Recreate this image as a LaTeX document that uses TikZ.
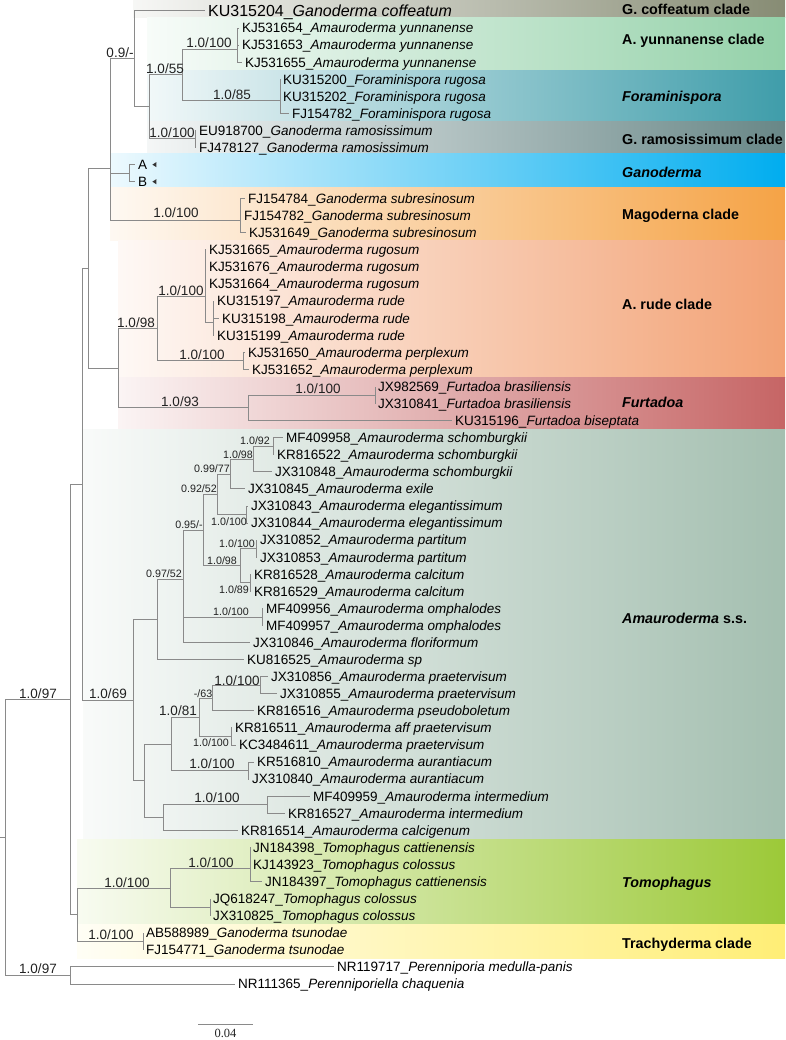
\documentclass[tikz,border=0pt]{standalone}
\usepackage{fontspec}
\setmainfont{Liberation Sans}
\newfontfamily\serifface{Liberation Serif}
\usetikzlibrary{calc}
\definecolor{branch}{HTML}{8A8A8A}
\definecolor{cCoff}{HTML}{878C74}
\definecolor{cYun}{HTML}{94D1A9}
\definecolor{cFora}{HTML}{3F9DAA}
\definecolor{cRamo}{HTML}{688787}
\definecolor{cGano}{HTML}{00ADEF}
\definecolor{cMago}{HTML}{F5A346}
\definecolor{cRude}{HTML}{F2A275}
\definecolor{cFurt}{HTML}{C66565}
\definecolor{cAmau}{HTML}{A4BFB0}
\definecolor{cTomo}{HTML}{9CC938}
\definecolor{cTrac}{HTML}{FFEE76}
\definecolor{lbl}{HTML}{222222}
\newcommand\band[4]{\shade[left color=#4!7!white, middle color=#4!55!white, right color=#4] (#1,#2) rectangle (785,#3);}
\newcommand\tb[2]{\draw[br] (#1) |- ([xshift=-3pt]#2.west);}
\newcommand\ed[2]{\draw[br] (#1) |- (#2);}
\begin{document}
\begin{tikzpicture}[x=1pt,y=-1pt,
  br/.style={draw=branch, line width=1pt},
  tip/.style={anchor=west, inner sep=0pt, text height=9.6pt, text depth=0pt, font=\fontsize{13.5}{15}\selectfont, text=black},
  sup/.style={inner sep=0pt, font=\fontsize{13.5}{15}\selectfont, text=lbl},
  supsm/.style={inner sep=0pt, font=\fontsize{10.7}{12}\selectfont, text=lbl},
  clade/.style={anchor=west, inner sep=0pt, font=\fontsize{14.3}{16}\selectfont\bfseries, text=black}]
\useasboundingbox (0,0) rectangle (786,1040);
% ---------- clade bands
\band{133}{0}{18}{cCoff}
\band{147}{18}{70.5}{cYun}
\band{147}{70.5}{122}{cFora}
\band{147}{122}{154}{cRamo}
\band{110}{154}{188}{cGano}
\band{110}{188}{240.5}{cMago}
\band{118}{240.5}{377.5}{cRude}
\band{118}{377.5}{429.5}{cFurt}
\band{83}{429.5}{839}{cAmau}
\band{77}{839}{924.5}{cTomo}
\band{77}{924.5}{958.5}{cTrac}
% ---------- clade labels
\node[clade] (k1) at (622,9) {G. coffeatum clade};
\node[clade] (k2) at (622,41) {A. yunnanense clade};
\node[clade] (k3) at (622,98) {\textit{Foraminispora}};
\node[clade] (k4) at (622,139) {G. ramosissimum clade};
\node[clade] (k5) at (622,172) {\textit{Ganoderma}};
\node[clade] (k6) at (622,216) {Magoderna clade};
\node[clade] (k7) at (622,304) {A. rude clade};
\node[clade] (k8) at (622,402) {\textit{Furtadoa}};
\node[clade] (k9) at (622,618) {\textit{Amauroderma} s.s.};
\node[clade] (k10) at (622,884) {\textit{Tomophagus}};
\node[clade] (k11) at (622,945) {Trachyderma clade};
% ---------- internal nodes
\coordinate (r0) at (0,837.5);
\coordinate (root) at (5,837.5);
\coordinate (n70) at (70,699.5);
\coordinate (out) at (70,975.5);
\coordinate (n82) at (82,484.3);
\coordinate (n77) at (77,914.7);
\coordinate (g88) at (88,268.3);
\coordinate (n133) at (133,700.3);
\coordinate (g110) at (110,168.1);
\coordinate (rf) at (118,368.4);
\coordinate (c09) at (134,59.0);
\coordinate (c155) at (149,107.0);
\coordinate (yf) at (182,75.0);
\coordinate (yun) at (237,49.4);
\coordinate (fora) at (280,100.6);
\coordinate (ram) at (195,139.0);
\coordinate (ab) at (129,173.2);
\coordinate (mago) at (240,220.1);
\coordinate (rudecl) at (157,328.9);
\coordinate (rug) at (205,296.9);
\coordinate (rude) at (213,322.5);
\coordinate (perp) at (243,360.9);
\coordinate (furt) at (248,407.9);
\coordinate (bras) at (375,395.1);
\coordinate (a157) at (157,619.8);
\coordinate (a97) at (183,579.9);
\coordinate (a95) at (203,530.0);
\coordinate (a52) at (217,494.3);
\coordinate (a77) at (230,474.0);
\coordinate (a98) at (253,459.1);
\coordinate (a92) at (273,446.3);
\coordinate (ael) at (246,514.6);
\coordinate (pc) at (240,565.8);
\coordinate (part) at (256,548.7);
\coordinate (calcn) at (250,582.8);
\coordinate (omph) at (262,617.0);
\coordinate (n144) at (144,780.8);
\coordinate (n171) at (171,744.0);
\coordinate (n199) at (199,717.3);
\coordinate (p63) at (212,698.1);
\coordinate (p856) at (260,685.3);
\coordinate (kk) at (231,736.5);
\coordinate (aur) at (248,770.6);
\coordinate (n163) at (163,817.6);
\coordinate (inter) at (267,804.8);
\coordinate (tomo) at (170,888.0);
\coordinate (tin) at (250,868.8);
\coordinate (tcol) at (210,907.2);
\coordinate (trach) at (143,941.3);
% ---------- tips
\node[tip, text height=11.5pt, font=\fontsize{16}{18}\selectfont] (t1) at (208,11.00) {KU315204\_\textit{Ganoderma coffeatum}};
\node[tip] (t2) at (242,28.07) {KJ531654\_\textit{Amauroderma yunnanense}};
\node[tip] (t3) at (242,45.14) {KJ531653\_\textit{Amauroderma yunnanense}};
\node[tip] (t4) at (245,62.21) {KJ531655\_\textit{Amauroderma yunnanense}};
\node[tip] (t5) at (283,79.28) {KU315200\_\textit{Foraminispora rugosa}};
\node[tip] (t6) at (283,96.35) {KU315202\_\textit{Foraminispora rugosa}};
\node[tip] (t7) at (292,113.42) {FJ154782\_\textit{Foraminispora rugosa}};
\node[tip] (t8) at (199,130.49) {EU918700\_\textit{Ganoderma ramosissimum}};
\node[tip] (t9) at (199,147.56) {FJ478127\_\textit{Ganoderma ramosissimum}};
\node[tip] (t10) at (138,164.63) {A};
\node[tip] (t11) at (138,181.70) {B};
\node[tip] (t12) at (248,198.77) {FJ154784\_\textit{Ganoderma subresinosum}};
\node[tip] (t13) at (244,215.84) {FJ154782\_\textit{Ganoderma subresinosum}};
\node[tip] (t14) at (249,232.91) {KJ531649\_\textit{Ganoderma subresinosum}};
\node[tip] (t15) at (209,249.98) {KJ531665\_\textit{Amauroderma rugosum}};
\node[tip] (t16) at (209,267.05) {KJ531676\_\textit{Amauroderma rugosum}};
\node[tip] (t17) at (209,284.12) {KJ531664\_\textit{Amauroderma rugosum}};
\node[tip] (t18) at (217,301.19) {KU315197\_\textit{Amauroderma rude}};
\node[tip] (t19) at (222,318.26) {KU315198\_\textit{Amauroderma rude}};
\node[tip] (t20) at (217,335.33) {KU315199\_\textit{Amauroderma rude}};
\node[tip] (t21) at (248,352.40) {KJ531650\_\textit{Amauroderma perplexum}};
\node[tip] (t22) at (252,369.47) {KJ531652\_\textit{Amauroderma perplexum}};
\node[tip] (t23) at (378,386.54) {JX982569\_\textit{Furtadoa brasiliensis}};
\node[tip] (t24) at (378,403.61) {JX310841\_\textit{Furtadoa brasiliensis}};
\node[tip] (t25) at (455,420.68) {KU315196\_\textit{Furtadoa biseptata}};
\node[tip] (t26) at (286,437.75) {MF409958\_\textit{Amauroderma schomburgkii}};
\node[tip] (t27) at (277,454.82) {KR816522\_\textit{Amauroderma schomburgkii}};
\node[tip] (t28) at (275,471.89) {JX310848\_\textit{Amauroderma schomburgkii}};
\node[tip] (t29) at (248,488.96) {JX310845\_\textit{Amauroderma exile}};
\node[tip] (t30) at (251,506.03) {JX310843\_\textit{Amauroderma elegantissimum}};
\node[tip] (t31) at (251,523.10) {JX310844\_\textit{Amauroderma elegantissimum}};
\node[tip] (t32) at (260,540.17) {JX310852\_\textit{Amauroderma partitum}};
\node[tip] (t33) at (260,557.24) {JX310853\_\textit{Amauroderma partitum}};
\node[tip] (t34) at (254,574.31) {KR816528\_\textit{Amauroderma calcitum}};
\node[tip] (t35) at (254,591.38) {KR816529\_\textit{Amauroderma calcitum}};
\node[tip] (t36) at (266,608.45) {MF409956\_\textit{Amauroderma omphalodes}};
\node[tip] (t37) at (266,625.52) {MF409957\_\textit{Amauroderma omphalodes}};
\node[tip] (t38) at (253,642.59) {JX310846\_\textit{Amauroderma floriformum}};
\node[tip] (t39) at (247,659.66) {KU816525\_\textit{Amauroderma sp}};
\node[tip] (t40) at (271,676.73) {JX310856\_\textit{Amauroderma praetervisum}};
\node[tip] (t41) at (280,693.80) {JX310855\_\textit{Amauroderma praetervisum}};
\node[tip] (t42) at (257,710.87) {KR816516\_\textit{Amauroderma pseudoboletum}};
\node[tip] (t43) at (235,727.94) {KR816511\_\textit{Amauroderma aff praetervisum}};
\node[tip] (t44) at (239,745.01) {KC3484611\_\textit{Amauroderma praetervisum}};
\node[tip] (t45) at (257,762.08) {KR516810\_\textit{Amauroderma aurantiacum}};
\node[tip] (t46) at (252,779.15) {JX310840\_\textit{Amauroderma aurantiacum}};
\node[tip] (t47) at (313,796.22) {MF409959\_\textit{Amauroderma intermedium}};
\node[tip] (t48) at (288,813.29) {KR816527\_\textit{Amauroderma intermedium}};
\node[tip] (t49) at (241,830.36) {KR816514\_\textit{Amauroderma calcigenum}};
\node[tip] (t50) at (253,847.43) {JN184398\_\textit{Tomophagus cattienensis}};
\node[tip] (t51) at (253,864.50) {KJ143923\_\textit{Tomophagus colossus}};
\node[tip] (t52) at (265,881.57) {JN184397\_\textit{Tomophagus cattienensis}};
\node[tip] (t53) at (213,898.64) {JQ618247\_\textit{Tomophagus colossus}};
\node[tip] (t54) at (213,915.71) {JX310825\_\textit{Tomophagus colossus}};
\node[tip] (t55) at (146,932.78) {AB588989\_\textit{Ganoderma tsunodae}};
\node[tip] (t56) at (146,949.85) {FJ154771\_\textit{Ganoderma tsunodae}};
\node[tip] (t57) at (337,966.92) {NR119717\_\textit{Perenniporia medulla-panis}};
\node[tip] (t58) at (238,983.99) {NR111365\_\textit{Perenniporiella chaquenia}};
% small markers after A and B
\fill[black!80] ($(t10.east)+(9,-2.6)$) -- ($(t10.east)+(5,0)$) -- ($(t10.east)+(9,2.6)$) -- cycle;
\fill[black!80] ($(t11.east)+(9,-2.6)$) -- ($(t11.east)+(5,0)$) -- ($(t11.east)+(9,2.6)$) -- cycle;
% ---------- branches
\draw[br] (r0) -- (root);
\ed{root}{n70} \ed{root}{out}
\ed{n70}{n82} \ed{n70}{n77}
\ed{n82}{g88} \ed{n82}{n133}
\ed{g88}{g110} \ed{g88}{rf}
\ed{g110}{c09} \ed{g110}{ab} \ed{g110}{mago}
\tb{c09}{t1} \ed{c09}{c155}
\ed{c155}{yf} \ed{c155}{ram}
\ed{yf}{yun} \ed{yf}{fora}
\tb{yun}{t2} \tb{yun}{t3} \tb{yun}{t4}
\tb{fora}{t5} \tb{fora}{t6} \tb{fora}{t7}
\tb{ram}{t8} \tb{ram}{t9}
\tb{ab}{t10} \tb{ab}{t11}
\tb{mago}{t12} \tb{mago}{t13} \tb{mago}{t14}
\ed{rf}{rudecl} \ed{rf}{furt}
\ed{rudecl}{rug} \ed{rudecl}{perp}
\tb{rug}{t15} \tb{rug}{t16} \tb{rug}{t17} \ed{rug}{rude}
\tb{rude}{t18} \tb{rude}{t19} \tb{rude}{t20}
\tb{perp}{t21} \tb{perp}{t22}
\ed{furt}{bras} \tb{furt}{t25}
\tb{bras}{t23} \tb{bras}{t24}
\ed{n133}{a157} \ed{n133}{n144}
\ed{a157}{a97} \tb{a157}{t39}
\ed{a97}{a95} \ed{a97}{omph} \tb{a97}{t38}
\ed{a95}{a52} \ed{a95}{pc}
\ed{a52}{a77} \ed{a52}{ael}
\ed{a77}{a98} \tb{a77}{t29}
\ed{a98}{a92} \tb{a98}{t28}
\tb{a92}{t26} \tb{a92}{t27}
\tb{ael}{t30} \tb{ael}{t31}
\ed{pc}{part} \ed{pc}{calcn}
\tb{part}{t32} \tb{part}{t33}
\tb{calcn}{t34} \tb{calcn}{t35}
\tb{omph}{t36} \tb{omph}{t37}
\ed{n144}{n171} \ed{n144}{n163}
\ed{n171}{n199} \ed{n171}{aur}
\ed{n199}{p63} \ed{n199}{kk}
\ed{p63}{p856} \tb{p63}{t42}
\tb{p856}{t40} \tb{p856}{t41}
\tb{kk}{t43} \tb{kk}{t44}
\tb{aur}{t45} \tb{aur}{t46}
\ed{n163}{inter} \tb{n163}{t49}
\tb{inter}{t47} \tb{inter}{t48}
\ed{n77}{tomo} \ed{n77}{trach}
\ed{tomo}{tin} \ed{tomo}{tcol}
\tb{tin}{t50} \tb{tin}{t51} \tb{tin}{t52}
\tb{tcol}{t53} \tb{tcol}{t54}
\tb{trach}{t55} \tb{trach}{t56}
\tb{out}{t57} \tb{out}{t58}
% ---------- support values
\node[sup] (s1) at (120,53) {0.9/-};
\node[sup] (s2) at (165,69) {1.0/55};
\node[sup] (s3) at (209,43) {1.0/100};
\node[sup] (s4) at (232,95) {1.0/85};
\node[sup] (s5) at (172,133) {1.0/100};
\node[sup] (s6) at (176,213) {1.0/100};
\node[sup] (s7) at (181,291) {1.0/100};
\node[sup] (s8) at (136,323) {1.0/98};
\node[sup] (s9) at (202,355) {1.0/100};
\node[sup] (s10) at (318,389) {1.0/100};
\node[sup] (s11) at (180,402) {1.0/93};
\node[sup] (s12) at (108,694) {1.0/69};
\node[sup] (s13) at (38,694) {1.0/97};
\node[sup] (s14) at (178,711) {1.0/81};
\node[sup] (s15) at (237,681) {1.0/100};
\node[sup] (s16) at (212,764) {1.0/100};
\node[sup] (s17) at (217,798) {1.0/100};
\node[sup] (s18) at (211,863) {1.0/100};
\node[sup] (s19) at (127,883) {1.0/100};
\node[sup] (s20) at (111,935) {1.0/100};
\node[sup] (s21) at (38,969) {1.0/97};
\node[supsm] (m1) at (255,441) {1.0/92};
\node[supsm] (m2) at (238,455) {1.0/98};
\node[supsm] (m3) at (212,469) {0.99/77};
\node[supsm] (m4) at (199,489) {0.92/52};
\node[supsm] (m5) at (229,522) {1.0/100};
\node[supsm] (m6) at (189,525) {0.95/-};
\node[supsm] (m7) at (237,544) {1.0/100};
\node[supsm] (m8) at (222,561) {1.0/98};
\node[supsm] (m9) at (234,590) {1.0/89};
\node[supsm] (m10) at (164,574) {0.97/52};
\node[supsm] (m11) at (231,612) {1.0/100};
\node[supsm] (m12) at (203,694) {-/63};
\node[supsm] (m13) at (211,743) {1.0/100};
% ---------- scale bar
\coordinate (sb1) at (198,1024);
\coordinate (sb2) at (253,1024);
\draw[br] (sb1) -- (sb2);
\node[anchor=north, inner sep=0pt, font=\serifface\fontsize{12.5}{13}\selectfont, text=lbl] (sbl) at (225.5,1029) {0.04};
\end{tikzpicture}
\end{document}
